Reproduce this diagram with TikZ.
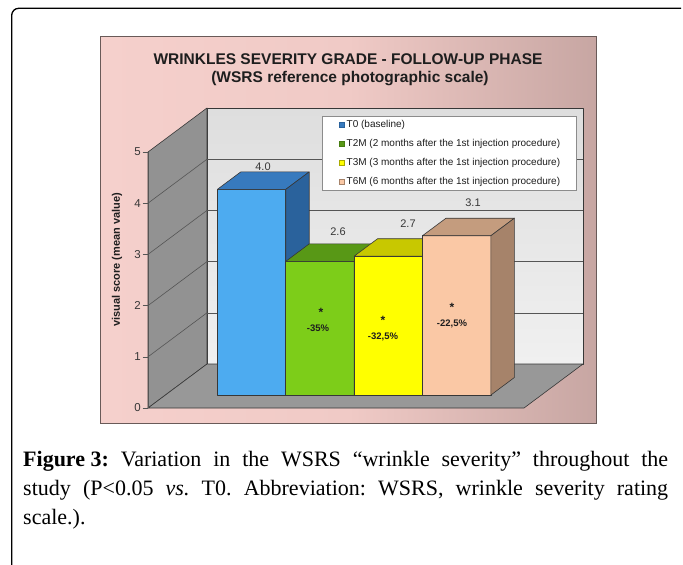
\documentclass[tikz,border=0pt]{standalone}
\usepackage{fontspec}
\setmainfont{Liberation Serif}
\newfontfamily\arialf{Liberation Sans}
\definecolor{bgA}{RGB}{250,214,210}
\definecolor{bgB}{RGB}{240,202,198}
\definecolor{bgC}{RGB}{158,130,127}
\definecolor{chartedge}{RGB}{105,90,88}
\definecolor{backT}{RGB}{222,222,222}
\definecolor{backB}{RGB}{240,240,240}
\definecolor{sidewall}{RGB}{146,146,146}
\definecolor{floorc}{RGB}{152,152,152}
\definecolor{edgec}{RGB}{55,55,55}
\definecolor{gridc}{RGB}{85,85,85}
\definecolor{tickc}{RGB}{55,55,55}
\definecolor{darkt}{RGB}{30,30,30}
\definecolor{blueF}{RGB}{77,171,240}
\definecolor{blueT}{RGB}{55,122,190}
\definecolor{blueS}{RGB}{42,98,156}
\definecolor{greenF}{RGB}{125,205,25}
\definecolor{greenT}{RGB}{88,152,22}
\definecolor{greenS}{RGB}{70,125,18}
\definecolor{yelF}{RGB}{255,255,0}
\definecolor{yelT}{RGB}{200,200,0}
\definecolor{yelS}{RGB}{170,170,0}
\definecolor{peaF}{RGB}{250,200,165}
\definecolor{peaT}{RGB}{196,156,126}
\definecolor{peaS}{RGB}{166,131,106}
\definecolor{legedge}{RGB}{140,140,140}
\pgfdeclarehorizontalshading{chartbg}{100bp}{color(0bp)=(bgA); color(50bp)=(bgB); color(100bp)=(bgC)}
\newcommand\barthd[5]{%
  \filldraw[fill=#3,wall] (#1,395) rectangle ({#1+68.4},#2);
  \filldraw[fill=#4,wall] (#1,#2) -- ++(23.5,-17.5) -- ++(68.4,0) -- ++(-23.5,17.5) -- cycle;
  \filldraw[fill=#5,wall] ({#1+68.4},395) -- ++(23.5,-17.5) -- ({#1+91.9},{#2-17.5}) -- ({#1+68.4},#2) -- cycle;}
\begin{document}
\frenchspacing
\begin{tikzpicture}[x=1pt,y=-1pt,
  wall/.style={draw=edgec,line width=0.6pt,line join=round},
  gridln/.style={draw=gridc,line width=0.6pt},
  ticklbl/.style={font=\arialf\fontsize{11.5}{12}\selectfont,text=tickc,anchor=east,inner sep=0pt},
  vallbl/.style={font=\arialf\fontsize{11}{12}\selectfont,text=tickc,inner sep=0pt},
  inlbl/.style={font=\arialf\bfseries\fontsize{9.5}{11}\selectfont,text=darkt,inner sep=0pt},
  starlbl/.style={font=\arialf\bfseries\fontsize{12}{12}\selectfont,text=darkt,inner sep=0pt},
  legtxt/.style={font=\arialf\fontsize{10}{12}\selectfont,text=darkt,anchor=west,inner sep=0pt},
  legmark/.style={minimum size=5pt,inner sep=0pt,line width=0.6pt},
  titlelbl/.style={font=\arialf\bfseries\fontsize{15.5}{18}\selectfont,text=darkt,anchor=base,inner sep=0pt},
  captext/.style={font=\fontsize{22}{29}\selectfont\frenchspacing,anchor=base west,inner sep=0pt}]
\useasboundingbox (0,0) rectangle (683,565);
\fill[white] (0,0) rectangle (683,565);
% outer frame
\draw[line width=1.3pt, rounded corners=7pt] (681,8.3) -- (11.7,8.3) -- (11.7,567);
% chart background
\shadedraw[shading=chartbg, draw=chartedge, line width=0.8pt] (100.5,36.5) rectangle (596.5,423);
% titles
\node[titlelbl] (title1) at (348,64.5) {WRINKLES SEVERITY GRADE - FOLLOW-UP PHASE};
\node[titlelbl] (title2) at (350,82.5) {(WSRS reference photographic scale)};
% walls
\shade[top color=backT, bottom color=backB] (207,108) rectangle (583,364);
\draw[wall] (207,108) rectangle (583,364);
\filldraw[fill=sidewall,wall] (148,408) -- (148,152) -- (207,108) -- (207,364) -- cycle;
\filldraw[fill=floorc,wall] (148,408) -- (207,364) -- (583,364) -- (524,408) -- cycle;
% grid lines and ticks
\foreach \k in {1,...,4} {
  \draw[gridln] (207,{364-51.2*\k}) -- (583,{364-51.2*\k});
  \draw[gridln] (148,{408-51.2*\k}) -- (207,{364-51.2*\k});
}
\draw[gridln] (148,152) -- (148,408);
\foreach \k in {0,...,5} {
  \draw[gridln] (142.5,{408-51.2*\k}) -- (148,{408-51.2*\k});
  \node[ticklbl] (tk\k) at (141,{408-51.2*\k}) {\k};
}
% y-axis title
\node[font=\arialf\bfseries\fontsize{11}{12}\selectfont,text=darkt,rotate=90,inner sep=0pt] (ylab) at (117,260) {visual score (mean value)};
% legend
\draw[draw=legedge,fill=white,line width=0.6pt] (322.7,116.7) rectangle (576,190);
\node[legmark,fill=blueT,draw=blueS] (m1) at (342,125) {};
\node[legmark,fill=greenT,draw=greenS] (m2) at (342,143.9) {};
\node[legmark,fill=yelF,draw=yelS] (m3) at (342,162.8) {};
\node[legmark,fill=peaF,draw=peaS] (m4) at (342,181.7) {};
\node[legtxt] (l1) at (346.5,125) {T0 (baseline)};
\node[legtxt] (l2) at (346.5,143.9) {T2M (2 months after the 1st injection procedure)};
\node[legtxt] (l3) at (346.5,162.8) {T3M (3 months after the 1st injection procedure)};
\node[legtxt] (l4) at (346.5,181.7) {T6M (6 months after the 1st injection procedure)};
% bars
\barthd{217.3}{189.4}{blueF}{blueT}{blueS}
\barthd{285.7}{261.4}{greenF}{greenT}{greenS}
\barthd{354.1}{256.2}{yelF}{yelT}{yelS}
\barthd{422.5}{235.7}{peaF}{peaT}{peaS}
% value labels
\node[vallbl] (v1) at (263,167) {4.0};
\node[vallbl] (v2) at (338,231.5) {2.6};
\node[vallbl] (v3) at (408,224) {2.7};
\node[vallbl] (v4) at (473,203) {3.1};
% inside labels
\node[starlbl] (s2) at (321,312) {*};
\node[inlbl] (p2) at (318,328) {-35\%};
\node[starlbl] (s3) at (383,320) {*};
\node[inlbl] (p3) at (383,337) {-32,5\%};
\node[starlbl] (s4) at (452,307) {*};
\node[inlbl] (p4) at (452,324) {-22,5\%};
% caption
\node[captext] (c1) at (23,466) {\makebox[645pt][s]{\mbox{\textbf{Figure 3:}} Variation in the WSRS “wrinkle severity” throughout the}};
\node[captext] (c2) at (23,495) {\makebox[645pt][s]{study (P<0.05 \textit{vs.} T0. Abbreviation: WSRS, wrinkle severity rating}};
\node[captext] (c3) at (23,524) {scale.).};
\end{tikzpicture}
\end{document}
